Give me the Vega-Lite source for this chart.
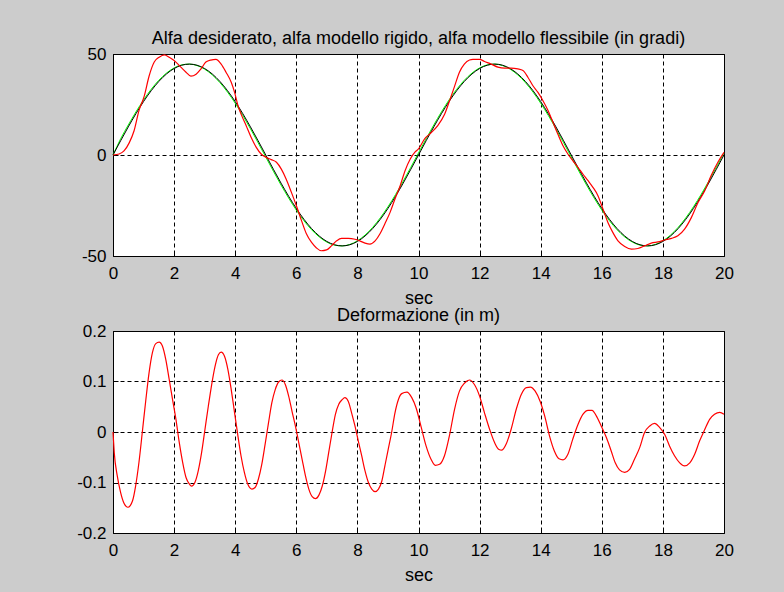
{
  "$schema": "https://vega.github.io/schema/vega-lite/v6.json",
  "background": "#cccccc",
  "padding": {"left": 76, "top": 29, "right": 55, "bottom": 8},
  "bounds": "flush",
  "spacing": 75,
  "datasets": {
    "desiderato": [
      {"t":0,"v":0},{"t":0.25,"v":7.04},{"t":0.5,"v":13.91},{"t":0.75,"v":20.43},{"t":1,"v":26.45},{"t":1.25,"v":31.82},{"t":1.5,"v":36.41},{"t":1.75,"v":40.1},{"t":2,"v":42.8},{"t":2.25,"v":44.45},
      {"t":2.5,"v":45},{"t":2.75,"v":44.45},{"t":3,"v":42.8},{"t":3.25,"v":40.1},{"t":3.5,"v":36.41},{"t":3.75,"v":31.82},{"t":4,"v":26.45},{"t":4.25,"v":20.43},{"t":4.5,"v":13.91},{"t":4.75,"v":7.04},
      {"t":5,"v":0},{"t":5.25,"v":-7.04},{"t":5.5,"v":-13.91},{"t":5.75,"v":-20.43},{"t":6,"v":-26.45},{"t":6.25,"v":-31.82},{"t":6.5,"v":-36.41},{"t":6.75,"v":-40.1},{"t":7,"v":-42.8},{"t":7.25,"v":-44.45},
      {"t":7.5,"v":-45},{"t":7.75,"v":-44.45},{"t":8,"v":-42.8},{"t":8.25,"v":-40.1},{"t":8.5,"v":-36.41},{"t":8.75,"v":-31.82},{"t":9,"v":-26.45},{"t":9.25,"v":-20.43},{"t":9.5,"v":-13.91},{"t":9.75,"v":-7.04},
      {"t":10,"v":0},{"t":10.25,"v":7.04},{"t":10.5,"v":13.91},{"t":10.75,"v":20.43},{"t":11,"v":26.45},{"t":11.25,"v":31.82},{"t":11.5,"v":36.41},{"t":11.75,"v":40.1},{"t":12,"v":42.8},{"t":12.25,"v":44.45},
      {"t":12.5,"v":45},{"t":12.75,"v":44.45},{"t":13,"v":42.8},{"t":13.25,"v":40.1},{"t":13.5,"v":36.41},{"t":13.75,"v":31.82},{"t":14,"v":26.45},{"t":14.25,"v":20.43},{"t":14.5,"v":13.91},{"t":14.75,"v":7.04},
      {"t":15,"v":0},{"t":15.25,"v":-7.04},{"t":15.5,"v":-13.91},{"t":15.75,"v":-20.43},{"t":16,"v":-26.45},{"t":16.25,"v":-31.82},{"t":16.5,"v":-36.41},{"t":16.75,"v":-40.1},{"t":17,"v":-42.8},{"t":17.25,"v":-44.45},
      {"t":17.5,"v":-45},{"t":17.75,"v":-44.45},{"t":18,"v":-42.8},{"t":18.25,"v":-40.1},{"t":18.5,"v":-36.41},{"t":18.75,"v":-31.82},{"t":19,"v":-26.45},{"t":19.25,"v":-20.43},{"t":19.5,"v":-13.91},{"t":19.75,"v":-7.04},
      {"t":20,"v":0}
    ],
    "rigido": [
      {"t":0,"v":0},{"t":0.25,"v":8.03},{"t":0.5,"v":14.86},{"t":0.75,"v":21.32},{"t":1,"v":27.26},{"t":1.25,"v":32.53},{"t":1.5,"v":37.0},{"t":1.75,"v":40.55},{"t":2,"v":43.11},{"t":2.25,"v":44.61},
      {"t":2.5,"v":45},{"t":2.75,"v":44.29},{"t":3,"v":42.49},{"t":3.25,"v":39.65},{"t":3.5,"v":35.82},{"t":3.75,"v":31.11},{"t":4,"v":25.64},{"t":4.25,"v":19.54},{"t":4.5,"v":12.96},{"t":4.75,"v":6.05},
      {"t":5,"v":-1},{"t":5.25,"v":-8.03},{"t":5.5,"v":-14.86},{"t":5.75,"v":-21.32},{"t":6,"v":-27.26},{"t":6.25,"v":-32.53},{"t":6.5,"v":-37.0},{"t":6.75,"v":-40.55},{"t":7,"v":-43.11},{"t":7.25,"v":-44.61},
      {"t":7.5,"v":-45},{"t":7.75,"v":-44.29},{"t":8,"v":-42.49},{"t":8.25,"v":-39.65},{"t":8.5,"v":-35.82},{"t":8.75,"v":-31.11},{"t":9,"v":-25.64},{"t":9.25,"v":-19.54},{"t":9.5,"v":-12.96},{"t":9.75,"v":-6.05},
      {"t":10,"v":1},{"t":10.25,"v":8.03},{"t":10.5,"v":14.86},{"t":10.75,"v":21.32},{"t":11,"v":27.26},{"t":11.25,"v":32.53},{"t":11.5,"v":37.0},{"t":11.75,"v":40.55},{"t":12,"v":43.11},{"t":12.25,"v":44.61},
      {"t":12.5,"v":45},{"t":12.75,"v":44.29},{"t":13,"v":42.49},{"t":13.25,"v":39.65},{"t":13.5,"v":35.82},{"t":13.75,"v":31.11},{"t":14,"v":25.64},{"t":14.25,"v":19.54},{"t":14.5,"v":12.96},{"t":14.75,"v":6.05},
      {"t":15,"v":-1},{"t":15.25,"v":-8.03},{"t":15.5,"v":-14.86},{"t":15.75,"v":-21.32},{"t":16,"v":-27.26},{"t":16.25,"v":-32.53},{"t":16.5,"v":-37.0},{"t":16.75,"v":-40.55},{"t":17,"v":-43.11},{"t":17.25,"v":-44.61},
      {"t":17.5,"v":-45},{"t":17.75,"v":-44.29},{"t":18,"v":-42.49},{"t":18.25,"v":-39.65},{"t":18.5,"v":-35.82},{"t":18.75,"v":-31.11},{"t":19,"v":-25.64},{"t":19.25,"v":-19.54},{"t":19.5,"v":-12.96},{"t":19.75,"v":-6.05},
      {"t":20,"v":1}
    ],
    "flessibile": [
      {"t":0,"v":0},{"t":0.2,"v":0.5},{"t":0.36,"v":2},{"t":0.53,"v":6},{"t":0.69,"v":12},{"t":0.85,"v":22},{"t":1.02,"v":29},{"t":1.18,"v":39},{"t":1.35,"v":46},{"t":1.51,"v":48.4},
      {"t":1.68,"v":49.6},{"t":1.84,"v":48.4},{"t":2.0,"v":46.8},{"t":2.22,"v":43.5},{"t":2.39,"v":41},{"t":2.55,"v":39},{"t":2.72,"v":40},{"t":2.88,"v":42.6},{"t":3.04,"v":46},{"t":3.2,"v":47},
      {"t":3.37,"v":47.3},{"t":3.54,"v":45},{"t":3.7,"v":41},{"t":3.87,"v":36},{"t":3.98,"v":31},{"t":4.09,"v":24.5},{"t":4.2,"v":20},{"t":4.36,"v":14.5},{"t":4.52,"v":8.8},{"t":4.69,"v":3.8},
      {"t":4.85,"v":0.5},{"t":5.02,"v":-1.2},{"t":5.18,"v":-2.3},{"t":5.35,"v":-3.6},{"t":5.51,"v":-7},{"t":5.67,"v":-12},{"t":5.84,"v":-18.5},{"t":6.0,"v":-25},{"t":6.17,"v":-32.5},{"t":6.33,"v":-39},
      {"t":6.5,"v":-43.3},{"t":6.66,"v":-46},{"t":6.82,"v":-47.4},{"t":6.99,"v":-47},{"t":7.15,"v":-45},{"t":7.32,"v":-42.5},{"t":7.48,"v":-41.3},{"t":7.7,"v":-41.3},{"t":7.92,"v":-41.7},{"t":8.08,"v":-42.5},
      {"t":8.25,"v":-43.6},{"t":8.41,"v":-44.1},{"t":8.58,"v":-42.5},{"t":8.74,"v":-39},{"t":8.9,"v":-34},{"t":9.07,"v":-28.4},{"t":9.23,"v":-21.8},{"t":9.4,"v":-15.2},{"t":9.56,"v":-7.8},{"t":9.73,"v":-2},
      {"t":9.89,"v":1.5},{"t":10.0,"v":3},{"t":10.2,"v":8},{"t":10.41,"v":11},{"t":10.63,"v":14.5},{"t":10.85,"v":20},{"t":11.02,"v":27},{"t":11.18,"v":34},{"t":11.34,"v":41},{"t":11.5,"v":45},
      {"t":11.67,"v":47},{"t":11.78,"v":47.3},{"t":12.0,"v":47.3},{"t":12.16,"v":46.3},{"t":12.38,"v":45},{"t":12.6,"v":43.5},{"t":12.82,"v":43},{"t":13.03,"v":43},{"t":13.25,"v":42.6},{"t":13.42,"v":41.8},
      {"t":13.58,"v":38.5},{"t":13.74,"v":34.4},{"t":13.91,"v":31},{"t":14.07,"v":27},{"t":14.24,"v":22},{"t":14.4,"v":16.2},{"t":14.56,"v":10.4},{"t":14.73,"v":4.6},{"t":14.89,"v":0.5},{"t":15.05,"v":-2.8},
      {"t":15.22,"v":-6.1},{"t":15.38,"v":-9.4},{"t":15.55,"v":-12.7},{"t":15.71,"v":-16},{"t":15.87,"v":-20},{"t":16.04,"v":-26.8},{"t":16.2,"v":-33.4},{"t":16.36,"v":-38.3},{"t":16.53,"v":-42.5},{"t":16.75,"v":-45.3},
      {"t":16.97,"v":-46.6},{"t":17.18,"v":-46.3},{"t":17.4,"v":-45},{"t":17.62,"v":-43.6},{"t":17.84,"v":-43},{"t":18.06,"v":-42.1},{"t":18.28,"v":-41.3},{"t":18.49,"v":-40},{"t":18.71,"v":-36.7},{"t":18.93,"v":-31},
      {"t":19.15,"v":-23.5},{"t":19.37,"v":-17.7},{"t":19.58,"v":-10.2},{"t":19.8,"v":-3.6},{"t":20.0,"v":1.3}
    ],
    "deformazione": [
      {"t":0,"v":0},{"t":0.04,"v":-0.04},{"t":0.14,"v":-0.087},{"t":0.25,"v":-0.12},{"t":0.36,"v":-0.141},{"t":0.49,"v":-0.149},{"t":0.64,"v":-0.136},{"t":0.74,"v":-0.107},{"t":0.85,"v":-0.06},{"t":0.96,"v":0},
      {"t":1.07,"v":0.061},{"t":1.18,"v":0.117},{"t":1.29,"v":0.157},{"t":1.4,"v":0.175},{"t":1.51,"v":0.178},{"t":1.62,"v":0.17},{"t":1.73,"v":0.143},{"t":1.84,"v":0.104},{"t":1.95,"v":0.064},{"t":2.06,"v":0.025},
      {"t":2.17,"v":-0.021},{"t":2.28,"v":-0.06},{"t":2.39,"v":-0.09},{"t":2.5,"v":-0.103},{"t":2.57,"v":-0.107},{"t":2.68,"v":-0.1},{"t":2.79,"v":-0.077},{"t":2.9,"v":-0.041},{"t":3.01,"v":0.005},{"t":3.12,"v":0.051},
      {"t":3.23,"v":0.094},{"t":3.34,"v":0.13},{"t":3.45,"v":0.153},{"t":3.54,"v":0.158},{"t":3.65,"v":0.15},{"t":3.76,"v":0.124},{"t":3.87,"v":0.084},{"t":3.98,"v":0.038},{"t":4.09,"v":-0.008},{"t":4.19,"v":-0.047},
      {"t":4.3,"v":-0.08},{"t":4.41,"v":-0.103},{"t":4.55,"v":-0.113},{"t":4.65,"v":-0.11},{"t":4.76,"v":-0.093},{"t":4.87,"v":-0.064},{"t":4.98,"v":-0.024},{"t":5.09,"v":0.018},{"t":5.2,"v":0.058},{"t":5.31,"v":0.084},
      {"t":5.42,"v":0.099},{"t":5.53,"v":0.103},{"t":5.64,"v":0.094},{"t":5.75,"v":0.071},{"t":5.86,"v":0.041},{"t":5.97,"v":0.012},{"t":6.08,"v":-0.021},{"t":6.19,"v":-0.054},{"t":6.3,"v":-0.087},{"t":6.41,"v":-0.113},
      {"t":6.52,"v":-0.128},{"t":6.63,"v":-0.132},{"t":6.74,"v":-0.125},{"t":6.85,"v":-0.107},{"t":6.96,"v":-0.077},{"t":7.06,"v":-0.041},{"t":7.17,"v":-0.001},{"t":7.28,"v":0.035},{"t":7.39,"v":0.055},{"t":7.5,"v":0.064},
      {"t":7.59,"v":0.068},{"t":7.7,"v":0.061},{"t":7.81,"v":0.038},{"t":7.92,"v":0.012},{"t":8.03,"v":-0.018},{"t":8.14,"v":-0.047},{"t":8.25,"v":-0.077},{"t":8.36,"v":-0.1},{"t":8.47,"v":-0.113},{"t":8.58,"v":-0.118},
      {"t":8.69,"v":-0.113},{"t":8.8,"v":-0.097},{"t":8.9,"v":-0.067},{"t":9.01,"v":-0.034},{"t":9.12,"v":-0.001},{"t":9.23,"v":0.038},{"t":9.34,"v":0.064},{"t":9.45,"v":0.076},{"t":9.62,"v":0.079},{"t":9.78,"v":0.068},
      {"t":9.92,"v":0.048},{"t":10.09,"v":0.009},{"t":10.25,"v":-0.028},{"t":10.41,"v":-0.054},{"t":10.55,"v":-0.066},{"t":10.69,"v":-0.064},{"t":10.85,"v":-0.047},{"t":11.02,"v":-0.005},{"t":11.18,"v":0.045},{"t":11.34,"v":0.081},
      {"t":11.51,"v":0.097},{"t":11.67,"v":0.103},{"t":11.83,"v":0.094},{"t":12.0,"v":0.071},{"t":12.16,"v":0.038},{"t":12.33,"v":0.005},{"t":12.49,"v":-0.021},{"t":12.62,"v":-0.034},{"t":12.73,"v":-0.036},{"t":12.87,"v":-0.024},
      {"t":13.03,"v":0.005},{"t":13.2,"v":0.045},{"t":13.36,"v":0.074},{"t":13.53,"v":0.088},{"t":13.66,"v":0.089},{"t":13.82,"v":0.081},{"t":13.98,"v":0.061},{"t":14.13,"v":0.032},{"t":14.29,"v":-0.008},{"t":14.45,"v":-0.038},
      {"t":14.6,"v":-0.053},{"t":14.73,"v":-0.055},{"t":14.89,"v":-0.044},{"t":15.05,"v":-0.014},{"t":15.22,"v":0.015},{"t":15.38,"v":0.035},{"t":15.55,"v":0.043},{"t":15.68,"v":0.043},{"t":15.82,"v":0.032},{"t":15.98,"v":0.012},
      {"t":16.15,"v":-0.011},{"t":16.31,"v":-0.038},{"t":16.44,"v":-0.061},{"t":16.58,"v":-0.075},{"t":16.75,"v":-0.08},{"t":16.91,"v":-0.074},{"t":17.07,"v":-0.054},{"t":17.24,"v":-0.031},{"t":17.4,"v":-0.001},{"t":17.57,"v":0.012},
      {"t":17.73,"v":0.017},{"t":17.89,"v":0.009},{"t":18.06,"v":-0.005},{"t":18.22,"v":-0.028},{"t":18.38,"v":-0.047},{"t":18.55,"v":-0.061},{"t":18.71,"v":-0.067},{"t":18.88,"v":-0.061},{"t":19.04,"v":-0.044},{"t":19.2,"v":-0.018},
      {"t":19.37,"v":0.005},{"t":19.53,"v":0.025},{"t":19.69,"v":0.035},{"t":19.86,"v":0.039},{"t":20.0,"v":0.035}
    ]
  },
  "vconcat": [
    {
      "width": 611,
      "height": 202,
      "title": "Alfa desiderato, alfa modello rigido, alfa modello flessibile (in gradi)",
      "encoding": {
        "x": {"field": "t", "type": "quantitative", "scale": {"domain": [0, 20], "nice": false, "zero": false},
              "axis": {"title": "sec", "values": [0, 2, 4, 6, 8, 10, 12, 14, 16, 18, 20]}},
        "y": {"field": "v", "type": "quantitative", "scale": {"domain": [-50, 50], "nice": false},
              "axis": {"title": null, "values": [-50, 0, 50], "labelExpr": "replace(datum.label, '−', '-')"}}
      },
      "layer": [
        {"data": {"name": "rigido"}, "mark": {"type": "line", "color": "#00ff00", "strokeWidth": 1, "interpolate": "monotone"}},
        {"data": {"name": "desiderato"}, "mark": {"type": "line", "color": "#000000", "strokeWidth": 1, "interpolate": "monotone"}},
        {"data": {"name": "flessibile"}, "mark": {"type": "line", "color": "#ff0000", "strokeWidth": 1.2, "interpolate": "monotone"}}
      ]
    },
    {
      "width": 611,
      "height": 202,
      "title": "Deformazione (in m)",
      "data": {"name": "deformazione"},
      "mark": {"type": "line", "color": "#ff0000", "strokeWidth": 1.2, "interpolate": "monotone"},
      "encoding": {
        "x": {"field": "t", "type": "quantitative", "scale": {"domain": [0, 20], "nice": false, "zero": false},
              "axis": {"title": "sec", "values": [0, 2, 4, 6, 8, 10, 12, 14, 16, 18, 20]}},
        "y": {"field": "v", "type": "quantitative", "scale": {"domain": [-0.2, 0.2], "nice": false},
              "axis": {"title": null, "values": [-0.2, -0.1, 0, 0.1, 0.2], "format": "~g", "labelExpr": "replace(datum.label, '−', '-')"}}
      }
    }
  ],
  "config": {
    "font": "Liberation Sans",
    "view": {"stroke": "#000000", "strokeWidth": 1, "fill": "#ffffff"},
    "axis": {
      "domain": false,
      "ticks": true,
      "tickSize": -5,
      "tickColor": "#000000",
      "tickWidth": 1,
      "grid": true,
      "gridColor": "#000000",
      "gridDash": [4, 3],
      "gridOpacity": 1,
      "gridWidth": 1,
      "labelFont": "Liberation Sans",
      "labelFontSize": 17,
      "labelColor": "#000000",
      "labelOverlap": false,
      "labelFlush": false,
      "titleFont": "Liberation Sans",
      "titleFontSize": 18,
      "titleFontWeight": "normal",
      "titleColor": "#000000"
    },
    "axisX": {"labelPadding": 27, "labelBaseline": "alphabetic", "titleBaseline": "alphabetic", "titleY": 47, "titleX": 305.5, "titleAnchor": "middle"},
    "axisY": {"labelPadding": 12, "labelBaseline": "middle"},
    "title": {"font": "Liberation Sans", "fontSize": 18, "fontWeight": "normal", "color": "#000000", "baseline": "alphabetic", "offset": -3, "anchor": "middle"}
  }
}
